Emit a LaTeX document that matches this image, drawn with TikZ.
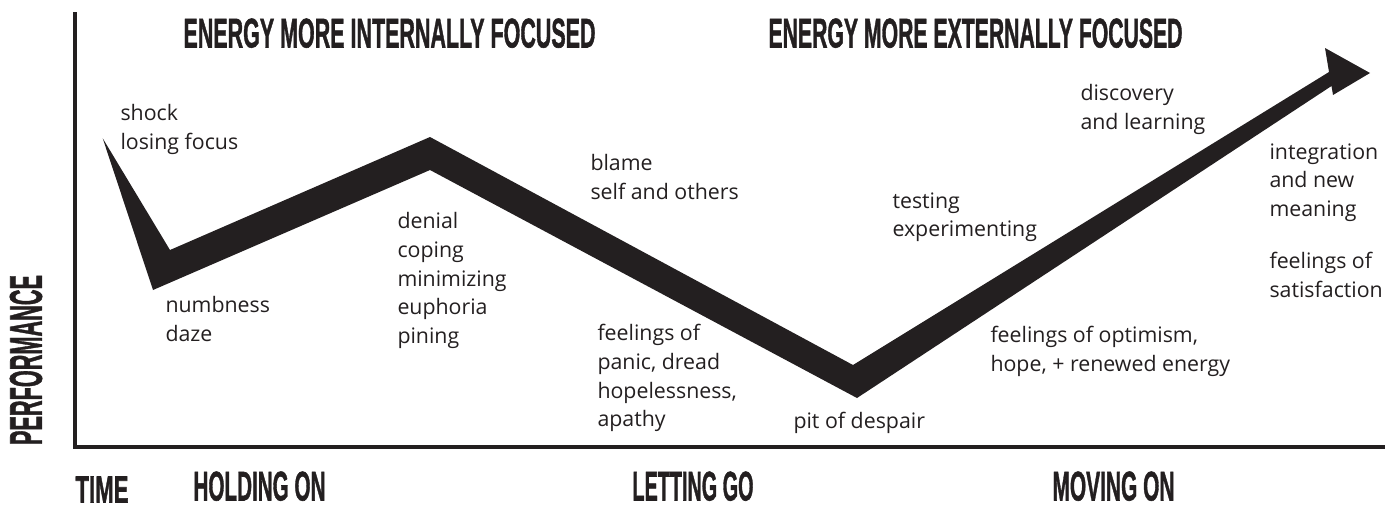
\documentclass[tikz,border=0pt]{standalone}
\usepackage{fontspec}
\usepackage{graphicx}
\setmainfont{Open Sans}
\newfontfamily\headfont{Liberation Sans}[BoldFeatures={FakeBold=1.5}]
\definecolor{inkblack}{HTML}{231F20}

\tikzset{every picture/.style={line width=0.75pt}}
\tikzset{
  lbl/.style={anchor=north west, inner sep=0pt, align=left, text=inkblack,
    font=\fontsize{16}{21.5}\selectfont},
  caps/.style={anchor=north west, inner sep=0pt, text=inkblack},
}
% squeezed capitals for the headings
\newcommand{\capsbox}[3][21.75pt]{\resizebox{#2}{#1}{\headfont\bfseries #3}}

\begin{document}
\begin{tikzpicture}[x=0.75pt,y=0.75pt,yscale=-1,xscale=1]
        \useasboundingbox (0,0) rectangle (1398,508);

        %Axes
        \coordinate (ytop) at (75,12);
        \coordinate (orig) at (75,447);
        \coordinate (xend) at (1385,447);
        \draw [inkblack, line width=3pt]  (ytop) -- (orig) -- (xend) ;

        %Shape: Polygon (the curve, ending in its arrow head)
        \fill [inkblack]  (102.7,138.3) -- (170,250) -- (430,137) -- (853,365) -- (1329,72)
            -- (1325,48) -- (1370,73) -- (1333,95) -- (1331.5,86)
            -- (857,398) -- (430,170) -- (153,290) -- cycle ;

        % Text Node
        \node [lbl] (shock) at (120,104) {shock\\losing focus};
        % Text Node
        \node [lbl] (numb) at (165,296) {numbness\\daze};
        % Text Node
        \node [lbl] (denial) at (397,212) {denial\\coping\\minimizing\\euphoria\\pining};
        % Text Node
        \node [lbl] (blame) at (590,154) {blame\\self and others};
        % Text Node
        \node [lbl] (panic) at (597,324) {feelings of\\panic, dread\\hopelessness,\\apathy};
        % Text Node
        \node [lbl] (pit) at (793,412) {pit of despair};
        % Text Node
        \node [lbl] (testing) at (892,192) {testing\\experimenting};
        % Text Node
        \node [lbl] (hope) at (990,326) {feelings of optimism,\\hope, + renewed energy};
        % Text Node
        \node [lbl] (discover) at (1080,84) {discovery\\and learning};
        % Text Node
        \node [lbl] (integr) at (1269,143) {integration\\and new\\meaning};
        % Text Node
        \node [lbl] (satisf) at (1269,252) {feelings of\\satisfaction};

        % Headings
        \node [caps] (internal) at (183,18) {\capsbox{309pt}{ENERGY MORE INTERNALLY FOCUSED}};
        \node [caps] (external) at (768,18) {\capsbox{310.5pt}{ENERGY MORE EXTERNALLY FOCUSED}};
        \node [caps] (holding) at (193,471) {\capsbox{99pt}{HOLDING ON}};
        \node [caps] (letting) at (632,471) {\capsbox{90.75pt}{LETTING GO}};
        \node [caps] (moving) at (1052,471) {\capsbox{91.5pt}{MOVING ON}};
        \node [caps] (time) at (75,476) {\capsbox[19.5pt]{39.75pt}{TIME}};
        \node [caps, anchor=center, rotate=90] (perf) at (26,360) {\capsbox[24pt]{127.5pt}{PERFORMANCE}};

\end{tikzpicture}
\end{document}
